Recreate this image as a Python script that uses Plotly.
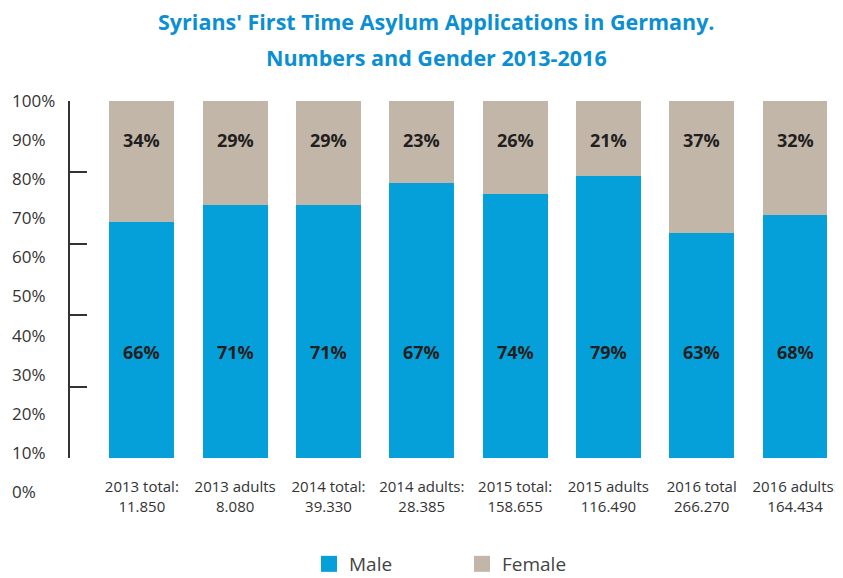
import plotly.graph_objects as go

categories = ["2013 total:<br>11.850", "2013 adults<br>8.080", "2014 total:<br>39.330",
              "2014 adults:<br>28.385", "2015 total:<br>158.655", "2015 adults<br>116.490",
              "2016 total<br>266.270", "2016 adults:<br>164.434"]
male = [66, 71, 71, 77, 74, 79, 63, 68]
female = [34, 29, 29, 23, 26, 21, 37, 32]
male_labels = ["66%", "71%", "71%", "67%", "74%", "79%", "63%", "68%"]
female_labels = ["34%", "29%", "29%", "23%", "26%", "21%", "37%", "32%"]
ytick_vals = [0, 10, 20, 30, 40, 50, 60, 70, 80, 90, 100]
ytick_text = ["0%", "10%", "20%", "30%", "40%", "50%", "60%", "70%", "80%", "90%", "100%"]
axis_ticks = [0, 20, 40, 60, 80, 100]
title_lines = ["Syrians' First Time Asylum Applications in Germany.",
               "Numbers and Gender 2013-2016"]

MALE_C = "#059fda"
FEMALE_C = "#c2b6a9"
FONT = "Open Sans, Lato, sans-serif"
# page body has an 8px margin, so the figure is 8px smaller than the window
W, H = 835, 570
ml, mr, mt, mb = 2, 6, 93, 78
pw = W - ml - mr
ph = H - mt - mb
AX_X = 62        # y-axis line (figure px)
AX_BOTTOM = 450  # y=0 of bars (figure px)
LBL_ZERO = 484   # "0%" label position (figure px)
LBL_SCALE = 3.91 # px per percent on the label axis

x_idx = list(range(len(categories)))

fig = go.Figure()
fig.add_bar(x=x_idx, y=male, name="Male", marker_color=MALE_C, marker_line_width=0, showlegend=False)
fig.add_bar(x=x_idx, y=female, name="Female", marker_color=FEMALE_C, marker_line_width=0, showlegend=False)
# legend entries with larger square swatches
fig.add_scatter(x=[None], y=[None], mode="markers", name="Male",
                marker=dict(symbol="square", size=17, color=MALE_C))
fig.add_scatter(x=[None], y=[None], mode="markers", name="Female",
                marker=dict(symbol="square", size=17, color=FEMALE_C))
# invisible trace to carry the label axis
fig.add_scatter(x=[None], y=[None], yaxis="y2", showlegend=False, hoverinfo="skip")

for i in x_idx:
    fig.add_annotation(x=i, y=29.7, xref="x", yref="y", text=male_labels[i], showarrow=False,
                       font=dict(size=18, color="#231f20", family=FONT, weight="bold"))
    fig.add_annotation(x=i, y=89.0, xref="x", yref="y", text=female_labels[i], showarrow=False,
                       font=dict(size=18, color="#231f20", family=FONT, weight="bold"))

for line, pix in zip(title_lines, [14, 49]):
    fig.add_annotation(x=(428 - ml) / pw, xref="paper", xanchor="center",
                       y=(mt + ph - pix) / ph, yref="paper", yanchor="middle",
                       text=line, showarrow=False,
                       font=dict(size=21.5, color="#0b8fd2", family=FONT, weight="bold"))

y_dom0 = (mt + ph - AX_BOTTOM) / ph
fig.update_layout(
    width=W, height=H,
    margin=dict(l=ml, r=mr, t=mt, b=mb, autoexpand=False),
    paper_bgcolor="white", plot_bgcolor="rgba(0,0,0,0)",
    barmode="stack", bargap=0.304,
    font=dict(family=FONT, color="#333333"),
    xaxis=dict(domain=[(AX_X - ml) / pw, 1], range=[-0.77, 7.45], tickmode="array",
               tickvals=x_idx, ticktext=categories, showgrid=False, zeroline=False,
               showline=False, ticks="", tickfont=dict(size=15, color="#333333"),
               ticklabelstandoff=18),
    yaxis=dict(domain=[y_dom0, 1], range=[0, 100], tickmode="array", tickvals=axis_ticks,
               showticklabels=False, ticks="inside", ticklen=17, tickwidth=1.5,
               tickcolor="#333333", showline=True, linecolor="#333333", linewidth=1.5,
               showgrid=False, zeroline=False),
    yaxis2=dict(domain=[0, 1], range=[-(mt + ph - LBL_ZERO) / LBL_SCALE, 100], anchor="free",
                position=(3 - ml) / pw, side="right", tickmode="array",
                tickvals=ytick_vals, ticktext=ytick_text, showgrid=False, zeroline=False,
                showline=False, ticks="", tickfont=dict(size=17, color="#333333"),
                ticklabelstandoff=0),
    legend=dict(orientation="h", x=(454 - ml) / pw, xanchor="center",
                y=(mt + ph - 556) / ph, yanchor="middle",
                font=dict(size=19, color="#444444"), entrywidth=108, itemwidth=30,
                traceorder="normal"),
    showlegend=True,
)

fig.write_html("out.html")
